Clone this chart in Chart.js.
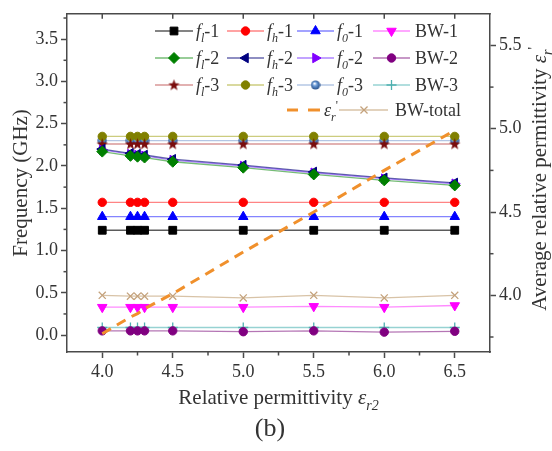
<!DOCTYPE html>
<html>
<head>
<meta charset="utf-8">
<script src="https://cdn.jsdelivr.net/npm/chart.js@4.4.1/dist/chart.umd.min.js"></script>
<style>
  html, body { margin: 0; padding: 0; background: #fff; }
  canvas { display: block; }
</style>
</head>
<body>
<canvas id="freqChart" width="552" height="451"></canvas>
<script>
// relative permittivity eps_r2 (x axis)
const permittivity = [4.0, 4.2, 4.25, 4.3, 4.5, 5.0, 5.5, 6.0, 6.5];

// frequencies in GHz, left axis
const fl1 = [1.24, 1.24, 1.24, 1.24, 1.24, 1.24, 1.24, 1.24, 1.24];
const fh1 = [1.57, 1.57, 1.57, 1.57, 1.57, 1.57, 1.57, 1.57, 1.57];
const f01 = [1.40, 1.40, 1.40, 1.40, 1.40, 1.40, 1.40, 1.40, 1.40];
const bw1 = [0.33, 0.33, 0.33, 0.33, 0.33, 0.33, 0.34, 0.33, 0.35];
const fl2 = [2.17, 2.12, 2.11, 2.10, 2.05, 1.98, 1.90, 1.83, 1.77];
const fh2 = [2.20, 2.15, 2.14, 2.13, 2.08, 2.01, 1.93, 1.86, 1.80];
const f02 = [2.19, 2.14, 2.13, 2.12, 2.07, 2.00, 1.92, 1.85, 1.79];
const bw2 = [0.05, 0.05, 0.05, 0.05, 0.05, 0.04, 0.05, 0.035, 0.045];
const fl3 = [2.26, 2.26, 2.26, 2.26, 2.26, 2.26, 2.26, 2.26, 2.26];
const fh3 = [2.35, 2.35, 2.35, 2.35, 2.35, 2.35, 2.35, 2.35, 2.35];
const f03 = [2.30, 2.30, 2.30, 2.30, 2.30, 2.30, 2.30, 2.30, 2.30];
const bw3 = [0.09, 0.09, 0.09, 0.09, 0.09, 0.09, 0.09, 0.09, 0.09];
const bwTotal = [0.47, 0.46, 0.46, 0.46, 0.46, 0.44, 0.47, 0.44, 0.47];

// average relative permittivity, right axis
const epsAvg = [3.77, 3.87, 3.89, 3.92, 4.01, 4.26, 4.50, 4.75, 4.99];

// tick labels
const xTicks = [4.0, 4.5, 5.0, 5.5, 6.0, 6.5];
const xMinorTicks = [4.25, 4.75, 5.25, 5.75, 6.25];
const freqTicks = [0.0, 0.5, 1.0, 1.5, 2.0, 2.5, 3.0, 3.5];
const freqMinorTicks = [0.25, 0.75, 1.25, 1.75, 2.25, 2.75, 3.25, 3.75];
const epsTicks = [4.0, 4.5, 5.0, 5.5];
const epsMinorTicks = [3.75, 4.25, 4.75, 5.25];

const FONT = '"Liberation Serif", "Times New Roman", serif';
const AXIS = '#4a4a4a';
const TEXT = '#333';

// star and shaded-ball markers
function makeStar(color) {
    const c = document.createElement('canvas');
    c.width = 13; c.height = 13;
    const g = c.getContext('2d');
    g.beginPath();
    for (let k = 0; k < 10; k++) {
        const r = k % 2 ? 2.4 : 6;
        const a = -Math.PI / 2 + k * Math.PI / 5;
        g.lineTo(6.5 + r * Math.cos(a), 6.8 + r * Math.sin(a));
    }
    g.closePath();
    g.fillStyle = color;
    g.fill();
    return c;
}
function makeBall() {
    const c = document.createElement('canvas');
    c.width = 10; c.height = 10;
    const g = c.getContext('2d');
    const grad = g.createRadialGradient(4, 3.5, 0.5, 5, 5, 5);
    grad.addColorStop(0, '#f4f8ff');
    grad.addColorStop(0.35, '#6a9ad6');
    grad.addColorStop(1, '#1d4680');
    g.beginPath();
    g.arc(5, 5, 4.6, 0, Math.PI * 2);
    g.fillStyle = grad;
    g.fill();
    return c;
}
const starImg = makeStar('#7a0c0c');
const ballImg = makeBall();

function series(label, data, color, lineColor, style, radius, rotation) {
    return {
        label: label,
        data: data,
        borderColor: lineColor,
        borderWidth: 1.3,
        backgroundColor: color,
        pointBackgroundColor: color,
        pointBorderColor: color,
        pointBorderWidth: 1,
        pointStyle: style,
        pointRadius: radius,
        pointRotation: rotation || 0,
        yAxisID: 'y'
    };
}

const datasets = [
    series('fl-1', fl1, '#000000', 'rgba(50,50,50,0.8)', 'rect', 5.5),
    series('fh-1', fh1, '#ff0000', 'rgba(255,80,80,0.7)', 'circle', 4.2),
    series('f0-1', f01, '#0000ff', 'rgba(80,80,255,0.7)', 'triangle', 5.5),
    series('BW-1', bw1, '#ff00ff', 'rgba(255,90,255,0.7)', 'triangle', 5.5, 180),
    series('fl-2', fl2, '#008000', 'rgba(60,160,60,0.7)', 'rectRot', 5.5),
    series('fh-2', fh2, '#000080', 'rgba(40,40,140,0.7)', 'triangle', 5.5, 270),
    series('f0-2', f02, '#8000ff', 'rgba(140,80,255,0.7)', 'triangle', 5.5, 90),
    series('BW-2', bw2, '#800080', 'rgba(150,60,150,0.7)', 'circle', 4.2),
    series('fl-3', fl3, '#7a0c0c', 'rgba(190,80,80,0.6)', starImg, 6),
    series('fh-3', fh3, '#808000', 'rgba(170,170,40,0.6)', 'circle', 4.2),
    series('f0-3', f03, '#2e5f9e', 'rgba(130,160,210,0.6)', ballImg, 5),
    series('BW-3', bw3, '#4fb0b0', 'rgba(80,180,180,0.6)', 'cross', 5),
    {
        label: 'eps',
        data: epsAvg,
        borderColor: '#f0902c',
        borderWidth: 3,
        borderDash: [10, 7],
        pointRadius: 0,
        yAxisID: 'y1',
        order: -1
    },
    series('BW-total', bwTotal, '#c4a27c', 'rgba(200,170,130,0.7)', 'crossRot', 5)
];
datasets[11].pointBorderWidth = 1.3;
datasets[13].pointBorderWidth = 1.3;

// rich text: parts with italic / sub / sup
function drawRich(ctx, parts, x, y, size, align) {
    const fonts = parts.map(p => (p.i ? 'italic ' : '') + Math.round((p.sub || p.sup) ? size * 0.65 : size) + 'px ' + FONT);
    let total = 0;
    const widths = parts.map((p, k) => {
        ctx.font = fonts[k];
        const w = ctx.measureText(p.t).width;
        total += w;
        return w;
    });
    let cx = align === 'center' ? x - total / 2 : x;
    ctx.textAlign = 'left';
    ctx.textBaseline = 'alphabetic';
    parts.forEach((p, k) => {
        ctx.font = fonts[k];
        const dy = p.sub ? size * 0.3 : (p.sup ? -size * 0.38 : 0);
        ctx.fillText(p.t, cx, y + dy);
        cx += widths[k];
    });
}
const fLabel = (s, n) => [{ t: 'f', i: 1 }, { t: s, i: 1, sub: 1 }, { t: '-' + n }];
const legendLabels = [
    fLabel('l', 1), fLabel('h', 1), fLabel('0', 1), [{ t: 'BW-1' }],
    fLabel('l', 2), fLabel('h', 2), fLabel('0', 2), [{ t: 'BW-2' }],
    fLabel('l', 3), fLabel('h', 3), fLabel('0', 3), [{ t: 'BW-3' }],
    [{ t: 'ε', i: 1 }, { t: 'r', i: 1, sub: 1 }, { t: "'", sup: 1 }],
    [{ t: 'BW-total' }]
];

function marker(ctx, ds, x, y) {
    ctx.fillStyle = ds.pointBackgroundColor;
    ctx.strokeStyle = ds.pointBorderColor;
    ctx.lineWidth = ds.pointBorderWidth;
    Chart.helpers.drawPoint(ctx, {
        pointStyle: ds.pointStyle,
        radius: ds.pointRadius,
        rotation: ds.pointRotation,
        borderWidth: ds.pointBorderWidth
    }, x, y);
}

const decorations = {
    id: 'decorations',
    afterDraw(chart) {
        const ctx = chart.ctx;
        const a = chart.chartArea;
        const sx = chart.scales.x, sy = chart.scales.y, sy1 = chart.scales.y1;
        ctx.save();
        ctx.strokeStyle = AXIS;
        ctx.lineWidth = 1.5;
        const line = (x1, y1, x2, y2) => { ctx.beginPath(); ctx.moveTo(x1, y1); ctx.lineTo(x2, y2); ctx.stroke(); };
        line(a.left - 0.75, a.top, a.right + 0.75, a.top);
        xTicks.forEach(v => { const p = sx.getPixelForValue(v); line(p, a.top, p, a.top + 5); });
        xMinorTicks.forEach(v => { const p = sx.getPixelForValue(v); line(p, a.bottom, p, a.bottom + 3.5); });
        freqMinorTicks.forEach(v => { const p = sy.getPixelForValue(v); line(a.left - 3.5, p, a.left, p); });
        epsMinorTicks.forEach(v => { const p = sy1.getPixelForValue(v); line(a.right, p, a.right + 3.5, p); });

        // axis titles
        ctx.fillStyle = TEXT;
        ctx.save();
        ctx.translate(20, (a.top + a.bottom) / 2);
        ctx.rotate(-Math.PI / 2);
        drawRich(ctx, [{ t: 'Frequency (GHz)' }], 0, 7, 21, 'center');
        ctx.restore();
        ctx.save();
        ctx.translate(539, (a.top + a.bottom) / 2 - 4);
        ctx.rotate(-Math.PI / 2);
        drawRich(ctx, [{ t: 'Average relative permittivity ' }, { t: 'ε', i: 1 }, { t: 'r', i: 1, sub: 1 }, { t: "'", sup: 1 }], 0, 7, 21, 'center');
        ctx.restore();
        drawRich(ctx, [{ t: 'Relative permittivity ' }, { t: 'ε', i: 1 }, { t: 'r2', i: 1, sub: 1 }], (a.left + a.right) / 2, 404, 21, 'center');
        drawRich(ctx, [{ t: '(b)' }], 270, 436, 26, 'center');

        // legend
        const cols = [[155, 193, 196], [227, 264, 267], [297, 334, 337], [373, 410, 415]];
        const rows = [31, 58, 85];
        for (let k = 0; k < 12; k++) {
            const ds = chart.data.datasets[k];
            const c = cols[k % 4], y = rows[Math.floor(k / 4)];
            ctx.strokeStyle = ds.borderColor;
            ctx.lineWidth = 1.3;
            line(c[0], y, c[1], y);
            marker(ctx, ds, (c[0] + c[1]) / 2, y);
            ctx.fillStyle = TEXT;
            drawRich(ctx, legendLabels[k], c[2], y + 6, 18, 'left');
        }
        const y4 = 110;
        const eps = chart.data.datasets[12];
        ctx.strokeStyle = eps.borderColor;
        ctx.lineWidth = 3;
        line(287, y4, 298, y4);
        line(308, y4, 320, y4);
        ctx.fillStyle = TEXT;
        drawRich(ctx, legendLabels[12], 324, y4 + 6, 18, 'left');
        const bt = chart.data.datasets[13];
        ctx.strokeStyle = bt.borderColor;
        ctx.lineWidth = 1.3;
        line(339, y4, 388, y4);
        marker(ctx, bt, 364, y4);
        ctx.fillStyle = TEXT;
        drawRich(ctx, legendLabels[13], 395, y4 + 6, 18, 'left');
        ctx.restore();
    }
};

const tickFont = { family: FONT, size: 18 };
function axisCommon(ticksArr, size) {
    return {
        type: 'linear',
        afterBuildTicks: axis => { axis.ticks = ticksArr.map(v => ({ value: v })); },
        ticks: { font: tickFont, color: TEXT, padding: 3, callback: v => v.toFixed(1) },
        grid: { drawOnChartArea: false, drawTicks: true, tickLength: 6, tickColor: AXIS, tickWidth: 1.5 },
        border: { display: true, color: AXIS, width: 1.5 },
        afterFit: size
    };
}

new Chart(document.getElementById('freqChart').getContext('2d'), {
    type: 'line',
    data: { labels: permittivity, datasets: datasets.map(d => Object.assign(d, { data: d.data.map((v, k) => ({ x: permittivity[k], y: v })) })) },
    options: {
        responsive: false,
        animation: false,
        devicePixelRatio: 1,
        layout: { padding: { top: 12, left: 0, right: 0, bottom: 0 } },
        plugins: { legend: { display: false }, tooltip: { enabled: false } },
        scales: {
            x: Object.assign(axisCommon(xTicks, s => { s.height = 99; }), { position: 'bottom', min: 3.75, max: 6.75 }),
            y: Object.assign(axisCommon(freqTicks, s => { s.width = 67; }), { position: 'left', min: -0.2, max: 3.8 }),
            y1: Object.assign(axisCommon(epsTicks, s => { s.width = 62; }), { position: 'right', min: 3.66, max: 5.69 })
        }
    },
    plugins: [decorations]
});
</script>
</body>
</html>
